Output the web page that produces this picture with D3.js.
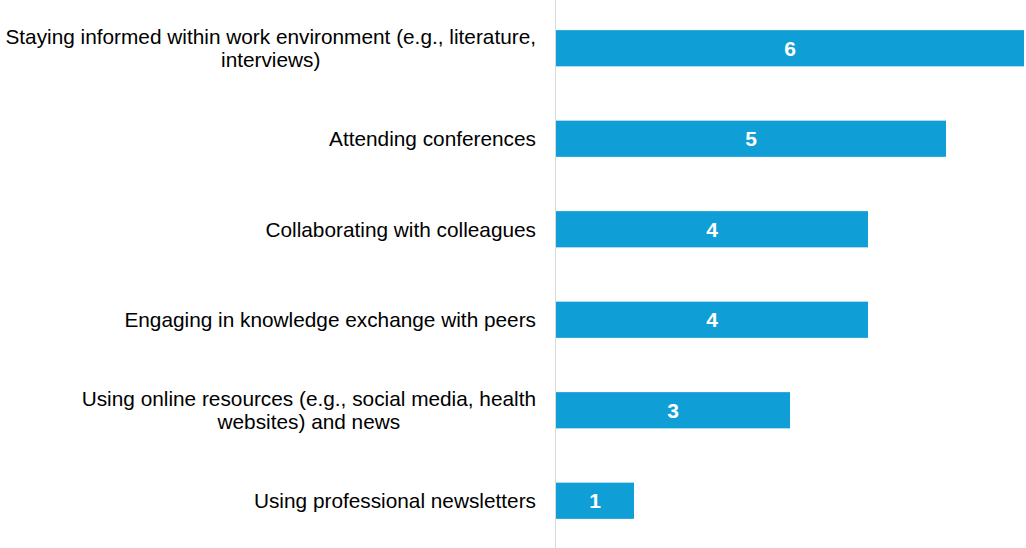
<!DOCTYPE html>
<html>
<head>
<meta charset="utf-8">
<script src="https://cdn.jsdelivr.net/npm/d3@7"></script>
<style>
  body { margin: 0; background: #fff; }
  text { font-family: "Liberation Sans", Arial, sans-serif; }
</style>
</head>
<body>
<div id="chart"></div>
<script>
var width = 1026,
    height = 548;

// categories (each entry = lines of the label) and counts
var categories = [
    ["Staying informed within work environment (e.g., literature,", "interviews)"],
    ["Attending conferences"],
    ["Collaborating with colleagues"],
    ["Engaging in knowledge exchange with peers"],
    ["Using online resources (e.g., social media, health", "websites) and news"],
    ["Using professional newsletters"]
];
var counts = [6, 5, 4, 4, 3, 1];

var barColor = "#0f9ed5";

var svg = d3.select("#chart")
    .append("svg")
    .attr("width", width)
    .attr("height", height);

var x = d3.scaleLinear()
    .domain([0, 6])
    .range([556, 1024]);

var y = d3.scaleBand()
    .domain(d3.range(categories.length))
    .range([3, 546])
    .paddingInner(0.6)
    .paddingOuter(0.3);

// axis line
svg.append("line")
    .attr("x1", x(0) - 0.5)
    .attr("x2", x(0) - 0.5)
    .attr("y1", 0)
    .attr("y2", height)
    .attr("stroke", "#d9d9d9")
    .attr("stroke-width", 1);

// bars
svg.selectAll("rect.bar")
    .data(counts)
    .enter()
    .append("rect")
    .attr("class", "bar")
    .attr("x", x(0))
    .attr("y", function (d, i) { return y(i); })
    .attr("width", function (d) { return x(d) - x(0); })
    .attr("height", y.bandwidth())
    .attr("fill", barColor);

// value labels
svg.selectAll("text.value")
    .data(counts)
    .enter()
    .append("text")
    .attr("class", "value")
    .attr("x", function (d) { return (x(0) + x(d)) / 2; })
    .attr("y", function (d, i) { return y(i) + y.bandwidth() / 2; })
    .attr("dy", "0.36em")
    .attr("text-anchor", "middle")
    .attr("fill", "#fff")
    .style("font-size", "21px")
    .style("font-weight", "bold")
    .text(function (d) { return d; });

// category labels: block right aligned, lines centered within block
var labelRight = 536,
    lineH = 23;

categories.forEach(function (lines, i) {
    var g = svg.append("g").attr("class", "label");
    var cy = y(i) + y.bandwidth() / 2;
    var texts = lines.map(function (line, j) {
        return g.append("text")
            .attr("y", cy + (j - (lines.length - 1) / 2) * lineH)
            .attr("dy", "0.35em")
            .attr("text-anchor", "middle")
            .attr("fill", "#000")
            .style("font-size", "20.8px")
            .text(line);
    });
    var maxW = d3.max(texts, function (t) { return t.node().getComputedTextLength(); });
    texts.forEach(function (t) {
        t.attr("x", labelRight - maxW / 2);
    });
});
</script>
</body>
</html>
